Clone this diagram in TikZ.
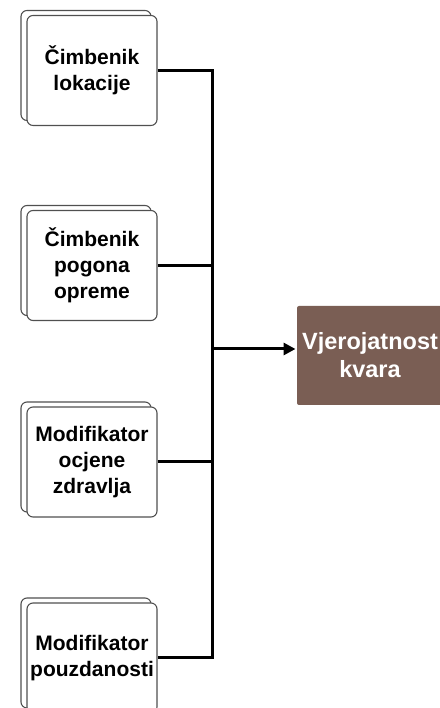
\documentclass[tikz,border=0pt]{standalone}
\usepackage{fontspec}
\setmainfont{Liberation Sans}
\usetikzlibrary{positioning,arrows.meta,shadows}
\definecolor{boxedge}{HTML}{505050}
\definecolor{brownbox}{HTML}{7A5E54}

\begin{document}
\begin{tikzpicture}[x=1pt, y=1pt, line width=3pt,
    factor/.style={draw=boxedge, line width=1.1pt, fill=white, rounded corners=6pt,
      minimum width=130pt, minimum height=110pt, align=center, inner sep=0pt,
      font=\fontsize{21}{26}\selectfont\bfseries,
      copy shadow={draw=boxedge, line width=1.1pt, shadow xshift=-6pt, shadow yshift=5pt}},
    result/.style={fill=brownbox, rounded corners=2pt, minimum width=146pt,
      minimum height=99pt, align=center, inner sep=0pt, text=white,
      font=\fontsize{23.5}{28}\selectfont\bfseries}]
    \useasboundingbox (0,0) rectangle (439,708);
    \node[factor] (loc) at (92,637.5) {Čimbenik\\lokacije};%
    \node[factor] (drive) at (92,442.5) {Čimbenik\\pogona\\opreme};%
    \node[factor] (health) at (92,246) {Modifikator\\ocjene\\zdravlja};%
    \node[factor] (rel) at (92,50) {Modifikator\\pouzdanosti};%
    \node[result] (prob) at (370,352.5) {Vjerojatnost\\kvara};%
    \coordinate (bus) at (212.5,359);
    \draw (loc.east) -- (loc.east -| bus) -- (rel.east -| bus) -- (rel.east);
    \draw (drive.east) -- (drive.east -| bus);
    \draw (health.east) -- (health.east -| bus);
    \draw[-{Triangle[length=12pt,width=12pt]}] (bus) -- (prob.west |- bus);
  \end{tikzpicture}
\end{document}
